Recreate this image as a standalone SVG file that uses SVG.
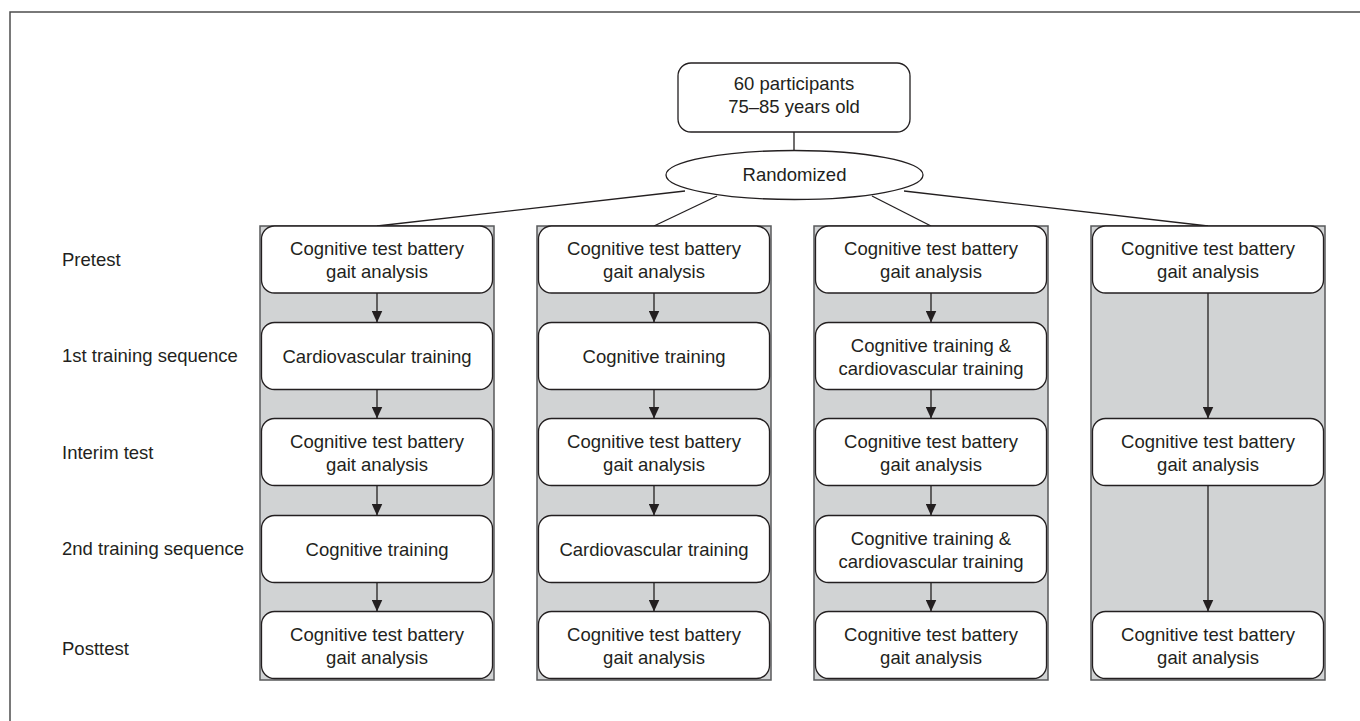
<svg xmlns="http://www.w3.org/2000/svg" width="1360" height="721" viewBox="0 0 1360 721">
<defs>
<style>
text{font-family:"Liberation Sans",Arial,sans-serif;font-size:18.5px;fill:#231f20;text-anchor:middle}
.lbl{text-anchor:start}
.col{fill:#d1d3d4;stroke:#58595b;stroke-width:1.5}
.box{fill:#fff;stroke:#231f20;stroke-width:1.3}
.ln{stroke:#231f20;stroke-width:1.3;fill:none}
.arr{stroke:#231f20;stroke-width:1.3;fill:none;marker-end:url(#ah)}
</style>
<marker id="ah" viewBox="0 0 12 11" refX="12" refY="5.5" markerWidth="12" markerHeight="11" markerUnits="userSpaceOnUse" orient="auto">
<path d="M0,0 L12,5.5 L0,11 Z" fill="#231f20"/>
</marker>
</defs>
<rect width="1360" height="721" fill="#fff"/>
<path d="M10,721 V12 H1360" fill="none" stroke="#4d4d4d" stroke-width="1.5"/>

<g id="row-labels">
<text class="lbl" x="62" y="266">Pretest</text>
<text class="lbl" x="62" y="362">1st training sequence</text>
<text class="lbl" x="62" y="459">Interim test</text>
<text class="lbl" x="62" y="555">2nd training sequence</text>
<text class="lbl" x="62" y="655">Posttest</text>
</g>

<g id="columns">
<rect class="col" x="260" y="226" width="234" height="454"/>
<rect class="col" x="537" y="226" width="234" height="454"/>
<rect class="col" x="814" y="226" width="234" height="454"/>
<rect class="col" x="1091" y="226" width="234" height="454"/>
</g>

<g id="connectors">
<line class="ln" x1="794" y1="132" x2="794" y2="151"/>
<line class="ln" x1="685" y1="191" x2="377" y2="226"/>
<line class="ln" x1="717" y1="196" x2="654" y2="226"/>
<line class="ln" x1="872" y1="196" x2="931" y2="226"/>
<line class="ln" x1="904" y1="191" x2="1208" y2="226"/>
<line class="arr" x1="377" y1="293" x2="377" y2="322.5"/>
<line class="arr" x1="377" y1="389.5" x2="377" y2="418.5"/>
<line class="arr" x1="377" y1="485.5" x2="377" y2="515.5"/>
<line class="arr" x1="377" y1="582.5" x2="377" y2="611.5"/>
<line class="arr" x1="654" y1="293" x2="654" y2="322.5"/>
<line class="arr" x1="654" y1="389.5" x2="654" y2="418.5"/>
<line class="arr" x1="654" y1="485.5" x2="654" y2="515.5"/>
<line class="arr" x1="654" y1="582.5" x2="654" y2="611.5"/>
<line class="arr" x1="931" y1="293" x2="931" y2="322.5"/>
<line class="arr" x1="931" y1="389.5" x2="931" y2="418.5"/>
<line class="arr" x1="931" y1="485.5" x2="931" y2="515.5"/>
<line class="arr" x1="931" y1="582.5" x2="931" y2="611.5"/>
<line class="arr" x1="1208" y1="293" x2="1208" y2="418.5"/>
<line class="arr" x1="1208" y1="485.5" x2="1208" y2="611.5"/>
</g>

<g id="participants">
<rect class="box" x="678" y="63" width="232" height="69" rx="13"/>
<text x="794" y="90">60 participants</text>
<text x="794" y="113">75–85 years old</text>
</g>

<g id="randomized">
<ellipse class="box" cx="794.5" cy="175" rx="128.5" ry="24.5"/>
<text x="794.5" y="181">Randomized</text>
</g>

<g id="c1-pretest"><rect class="box" x="261.5" y="226" width="231" height="67" rx="13"/><text x="377" y="255">Cognitive test battery</text><text x="377" y="278">gait analysis</text></g>
<g id="c1-train1"><rect class="box" x="261.5" y="322.5" width="231" height="67" rx="13"/><text x="377" y="363">Cardiovascular training</text></g>
<g id="c1-interim"><rect class="box" x="261.5" y="418.5" width="231" height="67" rx="13"/><text x="377" y="447.5">Cognitive test battery</text><text x="377" y="470.5">gait analysis</text></g>
<g id="c1-train2"><rect class="box" x="261.5" y="515.5" width="231" height="67" rx="13"/><text x="377" y="556">Cognitive training</text></g>
<g id="c1-post"><rect class="box" x="261.5" y="611.5" width="231" height="67" rx="13"/><text x="377" y="640.5">Cognitive test battery</text><text x="377" y="663.5">gait analysis</text></g>

<g id="c2-pretest"><rect class="box" x="538.5" y="226" width="231" height="67" rx="13"/><text x="654" y="255">Cognitive test battery</text><text x="654" y="278">gait analysis</text></g>
<g id="c2-train1"><rect class="box" x="538.5" y="322.5" width="231" height="67" rx="13"/><text x="654" y="363">Cognitive training</text></g>
<g id="c2-interim"><rect class="box" x="538.5" y="418.5" width="231" height="67" rx="13"/><text x="654" y="447.5">Cognitive test battery</text><text x="654" y="470.5">gait analysis</text></g>
<g id="c2-train2"><rect class="box" x="538.5" y="515.5" width="231" height="67" rx="13"/><text x="654" y="556">Cardiovascular training</text></g>
<g id="c2-post"><rect class="box" x="538.5" y="611.5" width="231" height="67" rx="13"/><text x="654" y="640.5">Cognitive test battery</text><text x="654" y="663.5">gait analysis</text></g>

<g id="c3-pretest"><rect class="box" x="815.5" y="226" width="231" height="67" rx="13"/><text x="931" y="255">Cognitive test battery</text><text x="931" y="278">gait analysis</text></g>
<g id="c3-train1"><rect class="box" x="815.5" y="322.5" width="231" height="67" rx="13"/><text x="931" y="351.5">Cognitive training &amp;</text><text x="931" y="374.5">cardiovascular training</text></g>
<g id="c3-interim"><rect class="box" x="815.5" y="418.5" width="231" height="67" rx="13"/><text x="931" y="447.5">Cognitive test battery</text><text x="931" y="470.5">gait analysis</text></g>
<g id="c3-train2"><rect class="box" x="815.5" y="515.5" width="231" height="67" rx="13"/><text x="931" y="544.5">Cognitive training &amp;</text><text x="931" y="567.5">cardiovascular training</text></g>
<g id="c3-post"><rect class="box" x="815.5" y="611.5" width="231" height="67" rx="13"/><text x="931" y="640.5">Cognitive test battery</text><text x="931" y="663.5">gait analysis</text></g>

<g id="c4-pretest"><rect class="box" x="1092.5" y="226" width="231" height="67" rx="13"/><text x="1208" y="255">Cognitive test battery</text><text x="1208" y="278">gait analysis</text></g>
<g id="c4-interim"><rect class="box" x="1092.5" y="418.5" width="231" height="67" rx="13"/><text x="1208" y="447.5">Cognitive test battery</text><text x="1208" y="470.5">gait analysis</text></g>
<g id="c4-post"><rect class="box" x="1092.5" y="611.5" width="231" height="67" rx="13"/><text x="1208" y="640.5">Cognitive test battery</text><text x="1208" y="663.5">gait analysis</text></g>
</svg>
